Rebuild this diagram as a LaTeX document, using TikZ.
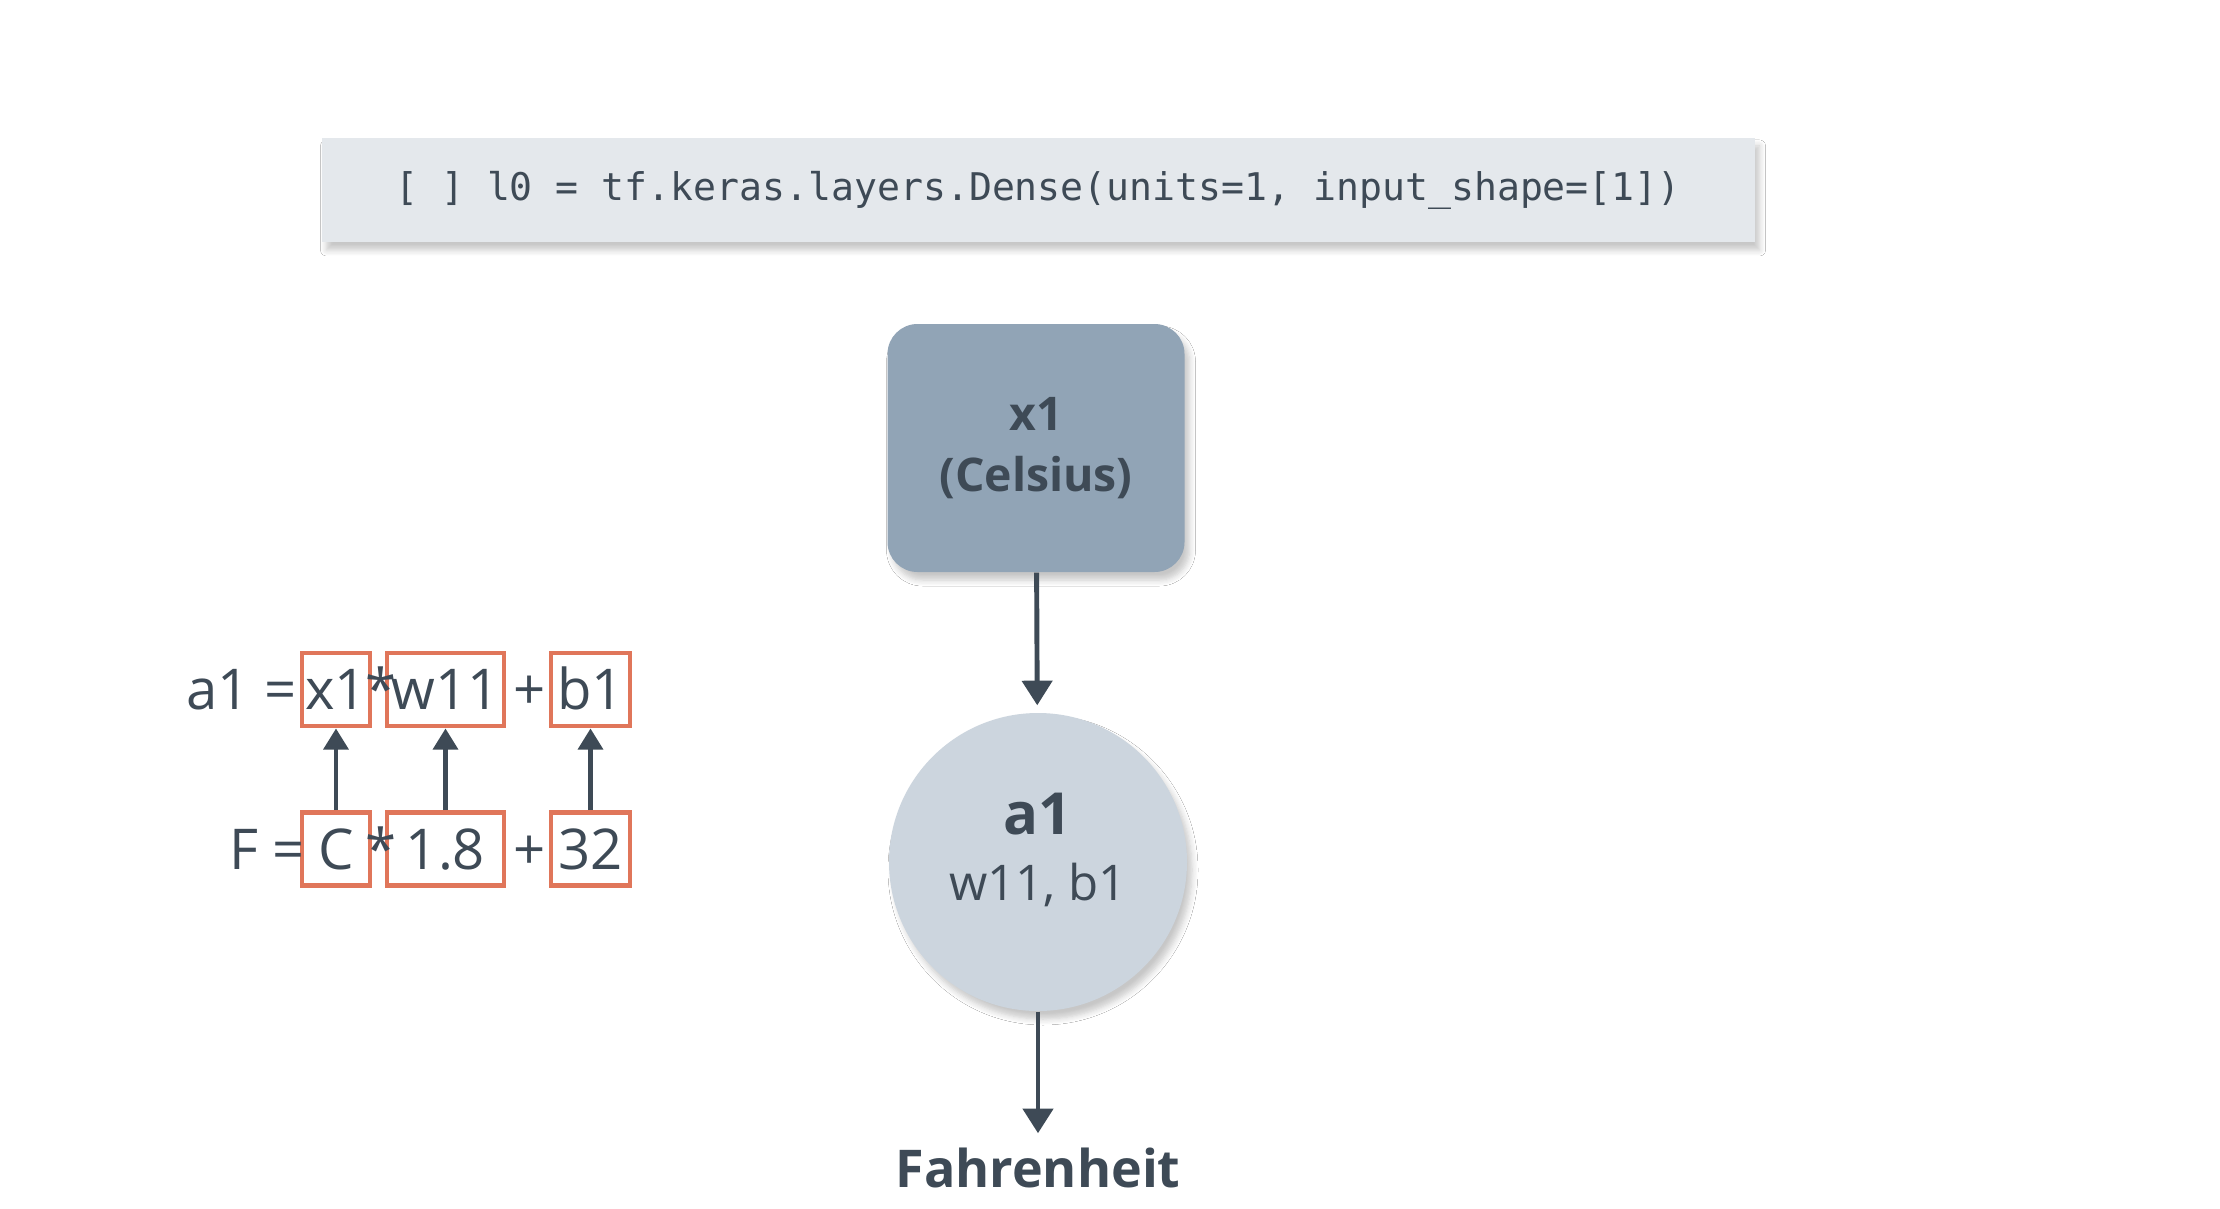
\documentclass[tikz,border=0pt]{standalone}
\usepackage{fontspec}
\setmainfont{Open Sans}
\setmonofont{DejaVu Sans Mono}
\usetikzlibrary{arrows.meta,positioning,shadows,shadows.blur}

\definecolor{codebg}{HTML}{E4E8EC}
\definecolor{ink}{HTML}{3E4A56}
\definecolor{inputfill}{HTML}{91A4B6}
\definecolor{neuronfill}{HTML}{CCD5DE}
\definecolor{coral}{HTML}{E0765A}

\newcommand{\eqfont}{\fontsize{16pt}{19pt}\selectfont}

\begin{document}
\begin{tikzpicture}[
    flow/.style={draw=ink, line width=1.4pt, -{Triangle[width=8.5pt,length=7pt]}},
    link/.style={draw=ink, line width=1.3pt, -{Triangle[width=7pt,length=6pt]}},
    eqbox/.style={draw=coral, line width=1.4pt, minimum height=0.73cm, inner sep=0pt,
        text=ink, font=\eqfont, text height=11.4pt, text depth=0pt},
    eqtext/.style={inner sep=0pt, text=ink, font=\eqfont, text height=11.4pt, text depth=0pt},
    softshadow/.style={blur shadow={shadow xshift=0.05cm, shadow yshift=-0.08cm,
        shadow blur steps=6, shadow blur radius=0.06cm, shadow opacity=22}}
]
    % Rahmen
    \fill[white] (0,0) rectangle (22.2,12.08);
    \useasboundingbox (0,0) rectangle (22.2,12.08);

    % Codezeile
    \node[fill=codebg, minimum width=14.33cm, minimum height=1.04cm, inner sep=0pt,
        text=ink, font=\ttfamily\fontsize{10.85pt}{13pt}\selectfont, softshadow]
        (code) at (10.38,10.18) {[ ] l0 = tf.keras.layers.Dense(units=1, input\_shape=[1])};

    % Eingabe und Neuron
    \node[fill=inputfill, rounded corners=0.3cm, minimum width=2.97cm, minimum height=2.48cm,
        align=center, text=ink, font=\bfseries\fontsize{13.2pt}{17.5pt}\selectfont, softshadow]
        (input) at (10.36,7.60) {x1\\(Celsius)};
    \node[circle, fill=neuronfill, minimum size=2.98cm, inner sep=0pt, softshadow]
        (neuron) at (10.38,3.46) {};
    \node[align=center, text=ink, inner sep=0pt] (neuronlabel) at ([yshift=0.12cm]neuron.center)
        {{\bfseries\fontsize{16.5pt}{20pt}\selectfont a1}\\[7pt]
        {\fontsize{14pt}{18pt}\selectfont w11, b1}};
    \node[text=ink, font=\bfseries\fontsize{14.8pt}{17pt}\selectfont, inner sep=1pt]
        (out) at (10.38,0.40) {Fahrenheit};

    \draw[flow, shorten >=2pt] (input) -- (neuron);
    \draw[flow, shorten >=3pt] (neuron) -- (out);

    % Gleichung oben
    \node[eqbox, minimum width=0.68cm] (x1) at (3.36,5.185) {x1};
    \node[eqbox, minimum width=1.17cm] (w11) at (4.455,5.185) {w11};
    \node[eqbox, minimum width=0.79cm] (b1) at (5.905,5.185) {b1};
    \node[eqtext, anchor=east] (a1eq) at ([xshift=-0.02cm]x1.west) {a1 =};
    \node[eqtext] (times1) at (3.81,5.185) {*};
    \node[eqtext] (plus1) at (5.30,5.185) {+};

    % Gleichung unten
    \node[eqbox, minimum width=0.68cm] (C) at (3.36,3.59) {C};
    \node[eqbox, minimum width=1.17cm] (slope) at (4.455,3.59) {1.8};
    \node[eqbox, minimum width=0.79cm] (offset) at (5.905,3.59) {32};
    \node[eqtext, anchor=east] (Feq) at ([xshift=0.06cm]C.west) {F =};
    \node[eqtext] (times2) at (3.81,3.59) {*};
    \node[eqtext] (plus2) at (5.30,3.59) {+};

    % Zuordnung
    \draw[link] (C) -- (x1);
    \draw[link] (slope) -- (w11);
    \draw[link] (offset) -- (b1);
\end{tikzpicture}
\end{document}
